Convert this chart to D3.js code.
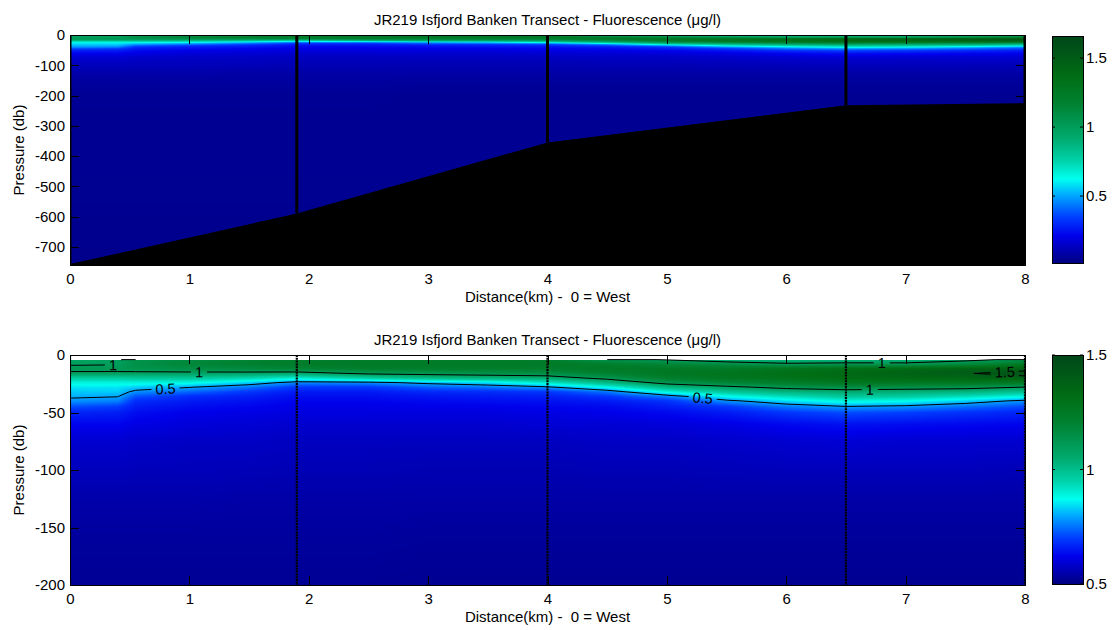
<!DOCTYPE html>
<html>
<head>
<meta charset="utf-8">
<script src="https://cdn.jsdelivr.net/npm/d3@7"></script>
<style>
  body { margin: 0; background: #fff; }
  svg text { font-family: "Liberation Sans", Arial, Helvetica, sans-serif; fill: #000; white-space: pre; }
</style>
</head>
<body>
<svg id="chart" width="1116" height="630"></svg>
<script>
// ---- section grid: distance columns (km) and pressure rows (db) ----
const distances = [0, 0.4, 0.55, 1, 1.5, 1.9, 2.5, 3, 3.5, 4, 4.5, 5, 5.5, 6, 6.5, 7, 7.5, 8];
const pressures = [4, 8, 12, 16, 20, 24, 28, 32, 36, 40, 45, 50, 60, 75, 100, 130, 160, 200, 300, 450, 600, 760];

// fluorescence (ug/l): one row per pressure level, one value per distance column
const fluorescence = [
  [0.97, 0.985, 1.06, 1.12, 1.16, 1.20, 1.22, 1.22, 1.22, 1.20, 1.05, 0.99, 0.90, 0.88, 0.88, 0.90, 0.95, 1.05],
  [0.99, 0.995, 1.08, 1.14, 1.18, 1.22, 1.25, 1.25, 1.25, 1.24, 1.20, 1.15, 1.10, 1.03, 1.05, 1.04, 1.12, 1.25],
  [1.03, 1.03, 1.05, 1.09, 1.12, 1.15, 1.20, 1.20, 1.20, 1.20, 1.25, 1.25, 1.25, 1.30, 1.35, 1.40, 1.45, 1.45],
  [0.98, 0.98, 0.97, 0.96, 0.95, 0.93, 1.03, 1.05, 1.07, 1.09, 1.18, 1.27, 1.30, 1.35, 1.40, 1.45, 1.49, 1.56],
  [0.78, 0.78, 0.80, 0.80, 0.75, 0.68, 0.78, 0.86, 0.89, 0.92, 1.05, 1.20, 1.28, 1.32, 1.38, 1.40, 1.42, 1.45],
  [0.66, 0.66, 0.66, 0.65, 0.56, 0.46, 0.47, 0.53, 0.58, 0.70, 0.86, 1.06, 1.15, 1.22, 1.28, 1.28, 1.28, 1.25],
  [0.59, 0.59, 0.56, 0.505, 0.43, 0.33, 0.33, 0.40, 0.43, 0.48, 0.64, 0.86, 0.96, 1.05, 1.10, 1.08, 1.06, 0.995],
  [0.55, 0.555, 0.47, 0.41, 0.33, 0.27, 0.27, 0.30, 0.31, 0.33, 0.43, 0.66, 0.80, 0.88, 0.92, 0.90, 0.88, 0.82],
  [0.515, 0.505, 0.38, 0.31, 0.28, 0.24, 0.24, 0.26, 0.27, 0.28, 0.33, 0.44, 0.63, 0.72, 0.80, 0.78, 0.72, 0.65],
  [0.475, 0.45, 0.31, 0.27, 0.25, 0.22, 0.22, 0.23, 0.24, 0.25, 0.27, 0.32, 0.47, 0.58, 0.66, 0.63, 0.56, 0.47],
  [0.37, 0.34, 0.27, 0.24, 0.22, 0.20, 0.20, 0.21, 0.21, 0.22, 0.23, 0.27, 0.33, 0.43, 0.49, 0.47, 0.42, 0.36],
  [0.29, 0.28, 0.24, 0.21, 0.20, 0.19, 0.19, 0.19, 0.19, 0.20, 0.21, 0.23, 0.27, 0.33, 0.37, 0.35, 0.32, 0.29],
  [0.22, 0.22, 0.20, 0.18, 0.17, 0.16, 0.16, 0.16, 0.16, 0.17, 0.17, 0.18, 0.20, 0.23, 0.25, 0.24, 0.23, 0.22],
  [0.16, 0.16, 0.15, 0.14, 0.14, 0.13, 0.13, 0.13, 0.13, 0.13, 0.14, 0.14, 0.15, 0.16, 0.17, 0.16, 0.16, 0.16],
  [0.125, 0.125, 0.12, 0.12, 0.115, 0.11, 0.11, 0.105, 0.105, 0.105, 0.11, 0.11, 0.115, 0.12, 0.12, 0.12, 0.12, 0.115],
  [0.085, 0.085, 0.085, 0.085, 0.08, 0.08, 0.08, 0.08, 0.08, 0.08, 0.08, 0.08, 0.08, 0.08, 0.08, 0.08, 0.08, 0.08],
  [0.065, 0.065, 0.065, 0.065, 0.065, 0.065, 0.065, 0.06, 0.06, 0.06, 0.06, 0.06, 0.06, 0.06, 0.06, 0.06, 0.06, 0.06],
  [0.05, 0.05, 0.05, 0.05, 0.05, 0.05, 0.05, 0.045, 0.045, 0.045, 0.045, 0.045, 0.045, 0.045, 0.045, 0.045, 0.045, 0.045],
  [0.045, 0.045, 0.045, 0.045, 0.045, 0.045, 0.045, 0.045, 0.045, 0.045, 0.045, 0.045, 0.045, 0.045, 0.045, 0.045, 0.045, 0.045],
  [0.045, 0.045, 0.045, 0.045, 0.045, 0.045, 0.045, 0.045, 0.045, 0.045, 0.045, 0.045, 0.045, 0.045, 0.045, 0.045, 0.045, 0.045],
  [0.04, 0.04, 0.04, 0.04, 0.04, 0.04, 0.04, 0.04, 0.04, 0.04, 0.04, 0.04, 0.04, 0.04, 0.04, 0.04, 0.04, 0.04],
  [0.035, 0.035, 0.035, 0.035, 0.035, 0.035, 0.035, 0.035, 0.035, 0.035, 0.035, 0.035, 0.035, 0.035, 0.035, 0.035, 0.035, 0.035]
];

// CTD stations along the transect and the water depth at each (db)
const stationKm = [0, 1.9, 4.0, 6.5, 8.0];
const stationBottom = [757, 590, 355, 232, 225];

// colour map and its limits
const colourLimits = [0.015, 1.66];
const colourStops = [0, 0.12, 0.2, 0.3, 0.37, 0.45, 0.55, 0.7, 0.82, 1];
const colourRamp = ["#000082", "#0000eb", "#003cff", "#00aaff", "#00fff0", "#00d2aa", "#00aa6e", "#008232", "#006e14", "#004619"];

// contour levels and tick values
const contourLevels = [0.5, 1, 1.5];
const distanceTicks = [0, 1, 2, 3, 4, 5, 6, 7, 8];
const fullDepthTicks = [0, -100, -200, -300, -400, -500, -600, -700];
const upperDepthTicks = [0, -50, -100, -150, -200];
const fullBarTicks = [0.5, 1, 1.5];
const upperBarTicks = [0.5, 1, 1.5];
const upperBarRange = [0.5, 1.5];

const titleText = "JR219 Isfjord Banken Transect - Fluorescence (\u03bcg/l)";
const xLabelText = "Distance(km) -  0 = West";
const yLabelText = "Pressure (db)";

// ---- layout ----
const svg = d3.select("#chart");
const plotLeft = 70, plotRight = 1025;
const barLeft = 1052, barRight = 1083;
const FONT = 15;
const x = d3.scaleLinear().domain([0, 8]).range([plotLeft, plotRight]);

const colourValue = d3.scaleLinear()
  .domain(colourStops.map(f => colourLimits[0] + f * (colourLimits[1] - colourLimits[0])))
  .range(colourRamp)
  .interpolate(d3.interpolateRgb)
  .clamp(true);

// lookup table for fast raster colouring
const LUT_N = 1024;
const lut = d3.range(LUT_N).map(k => d3.rgb(colourValue(colourLimits[0] + k / (LUT_N - 1) * (colourLimits[1] - colourLimits[0]))));

function sampleField(km, p) {
  const i = Math.max(0, Math.min(distances.length - 2, d3.bisectRight(distances, km) - 1));
  const j = Math.max(0, Math.min(pressures.length - 2, d3.bisectRight(pressures, p) - 1));
  const tx = Math.max(0, Math.min(1, (km - distances[i]) / (distances[i + 1] - distances[i])));
  const ty = Math.max(0, Math.min(1, (p - pressures[j]) / (pressures[j + 1] - pressures[j])));
  const a = fluorescence[j][i], b = fluorescence[j][i + 1];
  const c = fluorescence[j + 1][i], d = fluorescence[j + 1][i + 1];
  return (a * (1 - tx) + b * tx) * (1 - ty) + (c * (1 - tx) + d * tx) * ty;
}

const defs = svg.append("defs");
const grad = defs.append("linearGradient").attr("id", "cmap")
  .attr("x1", 0).attr("y1", 1).attr("x2", 0).attr("y2", 0);
colourStops.forEach((f, k) => grad.append("stop").attr("offset", f).attr("stop-color", colourRamp[k]));

// grid-index coordinate (d3.contours places sample i at i+0.5) -> physical value
function gridPos(arr, c) {
  const t = c - 0.5;
  if (t <= 0) return arr[0];
  if (t >= arr.length - 1) return arr[arr.length - 1];
  const i = Math.floor(t);
  return arr[i] + (t - i) * (arr[i + 1] - arr[i]);
}

function contourLines() {
  const n = distances.length, m = pressures.length;
  const sets = d3.contours().size([n, m]).thresholds(contourLevels)(fluorescence.flat());
  const onEdge = pt => pt[0] === 0 || pt[0] === n || pt[1] === 0 || pt[1] === m;
  const out = [];
  sets.forEach(set => {
    const runs = [];
    set.coordinates.forEach(poly => poly.forEach(ring => {
      let run = [];
      for (let k = 0; k < ring.length - 1; k++) {
        const a = ring[k], b = ring[k + 1];
        if (onEdge(a) && onEdge(b)) {
          if (run.length > 1) runs.push(run);
          run = [];
          continue;
        }
        if (run.length === 0) run.push(a);
        run.push(b);
      }
      if (run.length > 1) runs.push(run);
    }));
    runs.forEach(r => out.push({
      level: set.value,
      points: r.map(pt => [gridPos(distances, pt[0]), gridPos(pressures, pt[1])])
    }));
  });
  return out;
}

// where contour labels sit: level, distance (km), approximate pressure
const labelSpots = [
  { level: 1, km: 0.36, near: 8 },
  { level: 1, km: 1.08, near: 15 },
  { level: 0.5, km: 0.80, near: 29 },
  { level: 0.5, km: 5.30, near: 37 },
  { level: 1, km: 6.70, near: 30 },
  { level: 1, km: 6.80, near: 7 },
  { level: 1.5, km: 7.83, near: 15 }
];

function drawPanel(cfg) {
  const y = d3.scaleLinear().domain([cfg.yMin, 0]).range([cfg.bottom, cfg.top]);
  const w = plotRight - plotLeft, h = cfg.bottom - cfg.top;
  const g = svg.append("g");

  defs.append("clipPath").attr("id", "clip" + cfg.id)
    .append("rect").attr("x", plotLeft).attr("y", cfg.top).attr("width", w).attr("height", h);

  // interpolated colour field
  const canvas = document.createElement("canvas");
  canvas.width = w; canvas.height = h;
  const ctx = canvas.getContext("2d");
  const img = ctx.createImageData(w, h);
  const kms = d3.range(w).map(px => x.invert(plotLeft + px + 0.5));
  for (let py = 0; py < h; py++) {
    const p = -y.invert(cfg.top + py + 0.5);
    if (p < pressures[0]) continue;
    for (let px = 0; px < w; px++) {
      const v = sampleField(kms[px], p);
      let k = Math.round((v - colourLimits[0]) / (colourLimits[1] - colourLimits[0]) * (LUT_N - 1));
      k = Math.max(0, Math.min(LUT_N - 1, k));
      const c = lut[k], o = (py * w + px) * 4;
      img.data[o] = c.r; img.data[o + 1] = c.g; img.data[o + 2] = c.b; img.data[o + 3] = 255;
    }
  }
  ctx.putImageData(img, 0, 0);
  g.append("image").attr("href", canvas.toDataURL())
    .attr("x", plotLeft).attr("y", cfg.top).attr("width", w).attr("height", h)
    .attr("preserveAspectRatio", "none");

  const plot = g.append("g").attr("clip-path", `url(#clip${cfg.id})`);

  if (cfg.seabed) {
    const stations = stationKm.map((km, k) => ({ km, depth: stationBottom[k] }));
    plot.append("path").datum(stations)
      .attr("d", d3.area().x(d => x(d.km)).y0(y(cfg.yMin)).y1(d => y(-d.depth)))
      .attr("fill", "#000");
    plot.selectAll("line.cast").data(stations).join("line").attr("class", "cast")
      .attr("x1", d => x(d.km)).attr("x2", d => x(d.km))
      .attr("y1", y(0)).attr("y2", d => y(-d.depth))
      .attr("stroke", "#000").attr("stroke-width", 3);
  }

  if (cfg.contours) {
    const lines = contourLines();
    const line = d3.line().x(d => x(d[0])).y(d => y(-d[1]));
    const mask = defs.append("mask").attr("id", "gaps" + cfg.id).attr("maskUnits", "userSpaceOnUse")
      .attr("x", 0).attr("y", 0).attr("width", 1116).attr("height", 630);
    mask.append("rect").attr("x", 0).attr("y", 0).attr("width", 1116).attr("height", 630).attr("fill", "#fff");

    plot.append("g").attr("mask", `url(#gaps${cfg.id})`)
      .selectAll("path").data(lines).join("path")
      .attr("d", d => line(d.points))
      .attr("fill", "none").attr("stroke", "#000").attr("stroke-width", 1);

    const labels = plot.append("g");
    labelSpots.forEach(spot => {
      let best = null;
      lines.filter(l => l.level === spot.level).forEach(l => {
        for (let k = 0; k < l.points.length - 1; k++) {
          const a = l.points[k], b = l.points[k + 1];
          if (a[0] === b[0] || (a[0] - spot.km) * (b[0] - spot.km) > 0) continue;
          const t = (spot.km - a[0]) / (b[0] - a[0]);
          const p = a[1] + t * (b[1] - a[1]);
          const dist = Math.abs(p - spot.near);
          if (!best || dist < best.dist) best = { p, dist, a, b };
        }
      });
      if (!best) return;
      const cx = x(spot.km), cy = y(-best.p);
      let ang = Math.atan2(y(-best.b[1]) - y(-best.a[1]), x(best.b[0]) - x(best.a[0])) * 180 / Math.PI;
      if (ang > 90) ang -= 180;
      if (ang < -90) ang += 180;
      const txt = labels.append("text")
        .attr("transform", `translate(${cx},${cy}) rotate(${ang})`)
        .attr("text-anchor", "middle").attr("dy", "0.36em")
        .attr("font-size", 14.5).text(String(spot.level));
      const len = txt.node().getComputedTextLength();
      mask.append("rect")
        .attr("transform", `translate(${cx},${cy}) rotate(${ang})`)
        .attr("x", -len / 2 - 4).attr("y", -6).attr("width", len + 8).attr("height", 12)
        .attr("fill", "#000");
    });

    plot.selectAll("line.cast").data(stationKm).join("line").attr("class", "cast")
      .attr("x1", d => x(d)).attr("x2", d => x(d))
      .attr("y1", cfg.top).attr("y2", cfg.bottom)
      .attr("stroke", "#000").attr("stroke-width", 2.2).attr("stroke-dasharray", "2,0.8");
  }

  // axes (ticks point inward)
  const fmt = d => String(d);
  const styleAxis = sel => {
    sel.attr("font-size", FONT).attr("font-family", null);
    sel.selectAll("line,path").attr("stroke", "#000").attr("shape-rendering", "crispEdges");
  };
  g.append("g").attr("transform", `translate(0,${cfg.bottom})`)
    .call(d3.axisBottom(x).tickValues(distanceTicks).tickFormat(fmt).tickSize(-9).tickSizeOuter(0).tickPadding(8))
    .call(styleAxis);
  g.append("g").attr("transform", `translate(0,${cfg.top})`)
    .call(d3.axisTop(x).tickValues(distanceTicks).tickFormat("").tickSize(-9).tickSizeOuter(0))
    .call(styleAxis);
  g.append("g").attr("transform", `translate(${plotLeft},0)`)
    .call(d3.axisLeft(y).tickValues(cfg.yTicks).tickFormat(fmt).tickSize(-9).tickSizeOuter(0).tickPadding(5))
    .call(styleAxis);
  g.append("g").attr("transform", `translate(${plotRight},0)`)
    .call(d3.axisRight(y).tickValues(cfg.yTicks).tickFormat("").tickSize(-9).tickSizeOuter(0))
    .call(styleAxis);

  // titles and labels
  const mid = (plotLeft + plotRight) / 2;
  g.append("text").attr("x", mid).attr("y", cfg.top - 10).attr("text-anchor", "middle")
    .attr("font-size", FONT).text(titleText);
  g.append("text").attr("x", mid).attr("y", cfg.bottom + 37).attr("text-anchor", "middle")
    .attr("font-size", FONT).text(xLabelText);
  g.append("text").attr("transform", `translate(24,${(cfg.top + cfg.bottom) / 2}) rotate(-90)`)
    .attr("text-anchor", "middle").attr("font-size", FONT).text(yLabelText);

  // colour bar
  const yb = d3.scaleLinear().domain(cfg.barDomain).range([cfg.barBottom, cfg.barTop]);
  const bar = g.append("g");
  bar.append("rect").attr("x", barLeft).attr("y", cfg.barTop)
    .attr("width", barRight - barLeft).attr("height", cfg.barBottom - cfg.barTop)
    .attr("fill", "url(#cmap)").attr("stroke", "#000").attr("stroke-width", 1)
    .attr("shape-rendering", "crispEdges");
  const bt = bar.selectAll("g.bt").data(cfg.barTicks).join("g").attr("class", "bt")
    .attr("transform", d => `translate(0,${yb(d)})`);
  bt.append("line").attr("x1", barLeft).attr("x2", barLeft + 3).attr("stroke", "#000");
  bt.append("line").attr("x1", barRight - 3).attr("x2", barRight).attr("stroke", "#000");
  bt.append("text").attr("x", barRight + 3).attr("dy", "0.36em").attr("font-size", FONT)
    .text(d => String(d));
}

drawPanel({
  id: "full", top: 35, bottom: 265, yMin: -760, yTicks: fullDepthTicks,
  seabed: true, contours: false,
  barTop: 36, barBottom: 263, barDomain: colourLimits, barTicks: fullBarTicks
});
drawPanel({
  id: "upper", top: 355, bottom: 585, yMin: -200, yTicks: upperDepthTicks,
  seabed: false, contours: true,
  barTop: 355, barBottom: 584, barDomain: upperBarRange, barTicks: upperBarTicks
});
</script>
</body>
</html>
